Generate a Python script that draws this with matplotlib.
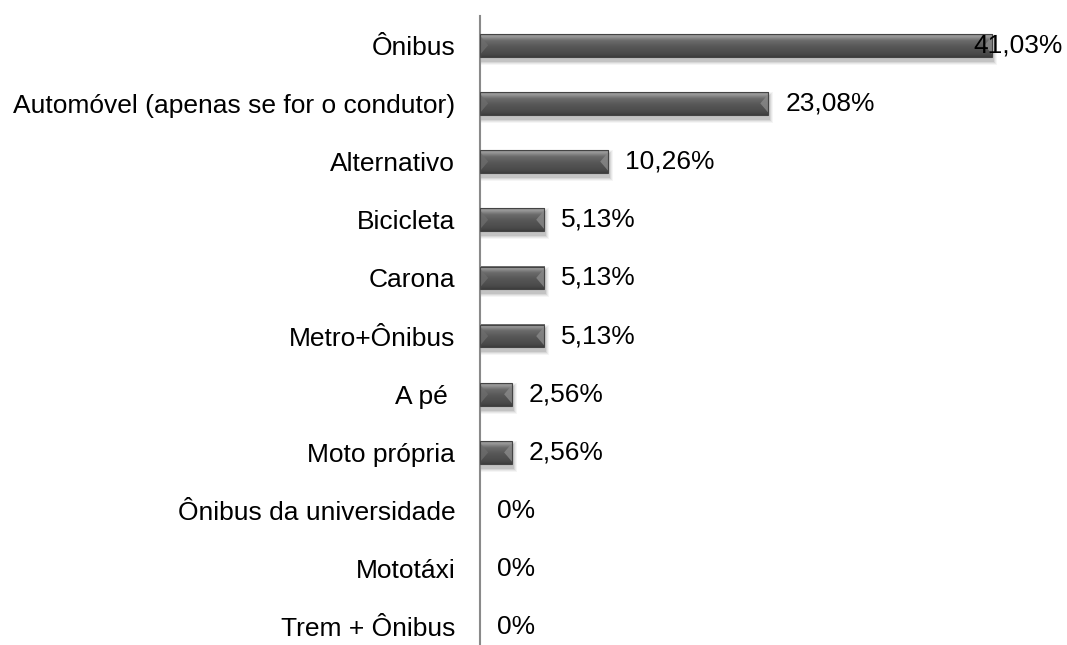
import matplotlib
matplotlib.use("Agg")
import matplotlib.pyplot as plt
import numpy as np
from matplotlib.patches import Polygon, Rectangle

plt.rcParams['font.family'] = ['Liberation Sans', 'DejaVu Sans']

categorias = ['Ônibus', 'Automóvel (apenas se for o condutor)', 'Alternativo',
              'Bicicleta', 'Carona', 'Metro+Ônibus', 'A pé ', 'Moto própria',
              'Ônibus da universidade', 'Mototáxi', 'Trem + Ônibus']
valores = [41.03, 23.08, 10.26, 5.13, 5.13, 5.13, 2.56, 2.56, 0, 0, 0]
rotulos = ['41,03%', '23,08%', '10,26%', '5,13%', '5,13%', '5,13%',
           '2,56%', '2,56%', '0%', '0%', '0%']

fig = plt.figure(figsize=(10.67, 6.45), dpi=100)
ax = fig.add_axes([0.45, 0.0, 0.55, 0.975])

# px -> data conversions
px_x = 47 / (0.55 * 1067)
px_y = 10.81 / (0.975 * 645)

h = 0.39
grad = np.linspace(0, 1, 64)
# vertical shading of the bevelled bar: dark rim, light band on top, dark body
shade = np.interp(grad, [0, 0.06, 0.12, 0.28, 0.55, 0.88, 1.0],
                  [0.38, 0.62, 0.58, 0.42, 0.34, 0.29, 0.24])
img = np.stack([shade] * 3, axis=-1)[:, None, :].repeat(2, axis=1)

for i, v in enumerate(valores):
    if v <= 0:
        continue
    top, bot = i - h / 2, i + h / 2
    # soft drop shadow
    for k, a in enumerate([0.04, 0.05, 0.07, 0.09]):
        grow = (4 - k) * px_y
        ax.add_patch(Rectangle((0, top + 4 * px_y - grow), v + (5 - k) * px_x,
                               h + 2 * grow, color='black', alpha=a, lw=0, zorder=1))
    ax.imshow(img, extent=(0, v, bot, top), aspect='auto', zorder=2, interpolation='bilinear')
    d = min(8 * px_x, v / 2)
    ax.add_patch(Polygon([(0, top + 2 * px_y), (d, i), (0, bot - 2 * px_y)], closed=True,
                         color='#6e6e6e', alpha=0.75, lw=0, zorder=3))
    ax.add_patch(Polygon([(v, top + 2 * px_y), (v - d, i), (v, bot - 2 * px_y)], closed=True,
                         color='#8a8a8a', alpha=0.8, lw=0, zorder=3))
    ax.add_patch(Rectangle((0, top), v, h, fill=False, ec='#444444', lw=0.8, zorder=4))

ax.set_xlim(0, 47)
ax.set_ylim(10.31, -0.5)

for i, (v, r) in enumerate(zip(valores, rotulos)):
    x = v + 17 * px_x
    if x + 90 * px_x > 47:
        ax.text(47 - 4 * px_x, i, r, ha='right', va='center', fontsize=19, zorder=5)
    else:
        ax.text(x, i, r, ha='left', va='center', fontsize=19, zorder=5)

ax.set_yticks(range(len(categorias)))
ax.set_yticklabels(categorias, fontsize=19)
ax.tick_params(axis='y', length=0, pad=18)
ax.set_xticks([])
for s in ['top', 'right', 'bottom']:
    ax.spines[s].set_visible(False)
ax.spines['left'].set_color('#8a8a8a')
ax.spines['left'].set_linewidth(1.5)

fig.savefig('out.png', dpi=100)
